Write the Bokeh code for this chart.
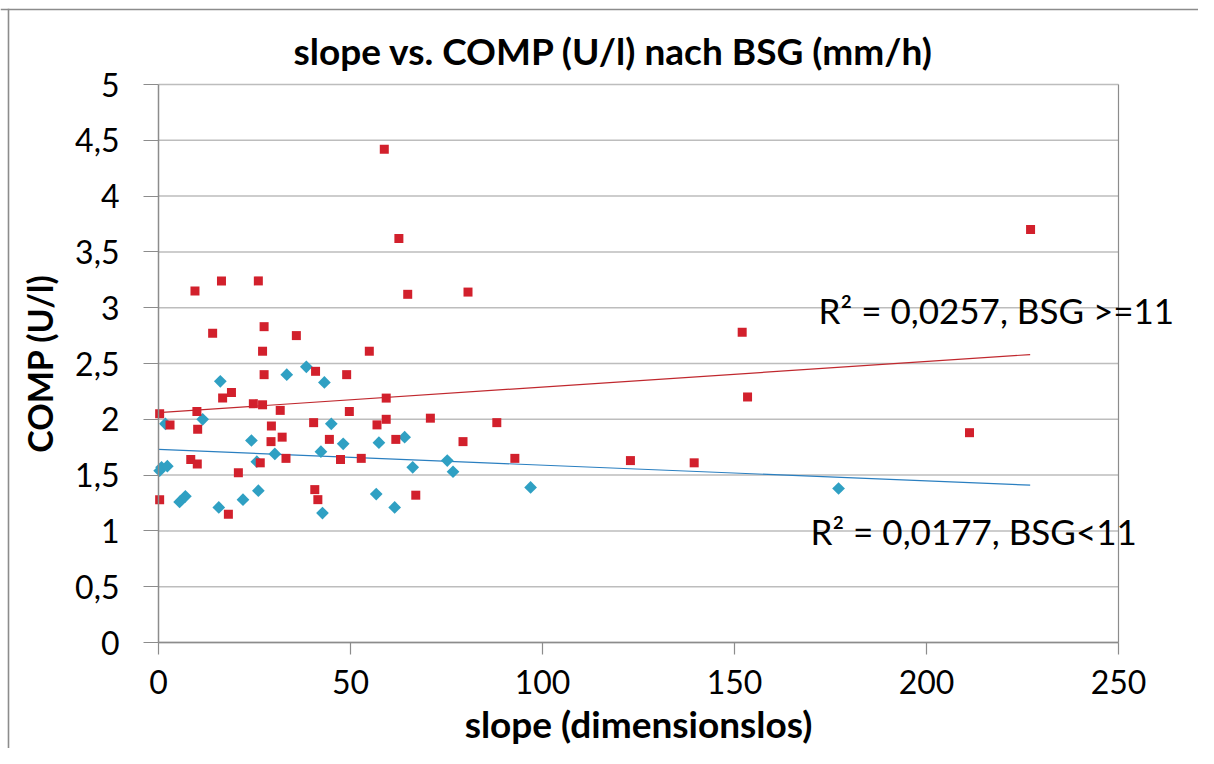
from bokeh.plotting import figure
from bokeh.models import Range1d, FixedTicker, Label, BoxAnnotation
from bokeh.embed import file_html
from bokeh.resources import INLINE

# BSG >= 11 (red squares)
high_x = [0.3, 0.3, 3, 8.4, 9.5, 10, 10.2, 10.1, 14.1, 16.4, 16.7, 18.2, 19, 20.8,
          24.7, 26, 26.5, 27.1, 27.1, 27.5, 27.5, 29.3, 29.4, 31.7, 32.2, 33.2, 35.9,
          40.4, 40.7, 40.9, 41.5, 44.5, 47.4, 49, 49.7, 52.8, 54.9, 56.9, 58.8, 59.3,
          59.3, 61.8, 62.6, 64.9, 67, 70.8, 79.3, 80.6, 88.1, 92.8, 122.9, 139.5,
          152, 153.4, 211.2, 227.1]
high_y = [2.05, 1.28, 1.95, 1.64, 3.15, 2.07, 1.91, 1.60, 2.77, 3.24, 2.19, 1.15, 2.24, 1.52,
          2.14, 3.24, 1.61, 2.13, 2.61, 2.83, 2.40, 1.80, 1.94, 2.08, 1.84, 1.65, 2.75,
          1.97, 1.37, 2.43, 1.28, 1.82, 1.64, 2.40, 2.07, 1.65, 2.61, 1.95, 4.42, 2.19,
          2.00, 1.82, 3.62, 3.12, 1.32, 2.01, 1.80, 3.14, 1.97, 1.65, 1.63, 1.61,
          2.78, 2.20, 1.88, 3.70]

# BSG < 11 (blue diamonds)
low_x = [0.3, 0.8, 1.8, 2.3, 5.5, 7, 11.5, 15.7, 16.1, 22, 24.2, 25.6, 26, 30.3, 33.4,
         38.5, 42.3, 42.7, 43.2, 45, 48.1, 56.7, 57.4, 61.5, 64.1, 66.2, 75.2, 76.7,
         96.9, 177.1]
low_y = [1.54, 1.57, 1.96, 1.58, 1.26, 1.31, 2.00, 1.21, 2.34, 1.28, 1.81, 1.62, 1.36, 1.69, 2.40,
         2.47, 1.71, 1.16, 2.33, 1.96, 1.78, 1.33, 1.79, 1.21, 1.84, 1.57, 1.63, 1.53,
         1.39, 1.38]

# linear trend lines (end points)
trend_x = [0, 227]
high_trend_y = [2.06, 2.58]
low_trend_y = [1.73, 1.41]

x_ticks = [0, 50, 100, 150, 200, 250]
y_ticks = [0, 0.5, 1, 1.5, 2, 2.5, 3, 3.5, 4, 4.5, 5]
y_tick_labels = ["0", "0,5", "1", "1,5", "2", "2,5", "3", "3,5", "4", "4,5", "5"]

title_text = "slope vs. COMP (U/l) nach BSG (mm/h)"
x_label = "slope (dimensionslos)"
y_label = "COMP (U/l)"
high_note = "R\u00b2 = 0,0257,  BSG >=11"
low_note = "R\u00b2 = 0,0177,  BSG<11"

FONT = "Lato"
W, H = 1198, 748
# pixel geometry of the plot area inside the canvas
PX_LEFT, PX_BOTTOM, PX_PER_X, PX_PER_Y = 158, 642, 3.84, 111.6

# The frame fills the whole canvas so that texts reaching past the plot area are not clipped.
p = figure(width=W, height=H, title=None, output_backend="svg", toolbar_location=None,
           x_range=Range1d(-PX_LEFT / PX_PER_X, (W - PX_LEFT) / PX_PER_X),
           y_range=Range1d(-(H - PX_BOTTOM) / PX_PER_Y, PX_BOTTOM / PX_PER_Y),
           min_border_left=0, min_border_right=0, min_border_top=0, min_border_bottom=0)

p.background_fill_color = "white"
p.border_fill_color = "white"
p.outline_line_color = None
p.xgrid.visible = False
p.ygrid.visible = False

# outer chart border: only its top and left edges are inside the picture
p.add_layout(BoxAnnotation(left=0, right=W + 50, top=H - 8.2, bottom=H - 9.8,
                           left_units="screen", right_units="screen",
                           top_units="screen", bottom_units="screen",
                           fill_color="#8c8c8c", fill_alpha=1, line_color=None,
                           level="underlay"))
p.add_layout(BoxAnnotation(left=7.2, right=8.8, top=H - 8.2, bottom=-50,
                           left_units="screen", right_units="screen",
                           top_units="screen", bottom_units="screen",
                           fill_color="#8c8c8c", fill_alpha=1, line_color=None,
                           level="underlay"))

# horizontal gridlines across the plot area and its right border
p.segment(x0=[x_ticks[0]] * len(y_ticks), y0=y_ticks, x1=[x_ticks[-1]] * len(y_ticks), y1=y_ticks,
          line_color="#bdbdbd", line_width=1.5)
p.segment(x0=[x_ticks[-1]], y0=[y_ticks[0]], x1=[x_ticks[-1]], y1=[y_ticks[-1]],
          line_color="#8c8c8c", line_width=1.2)

xa, ya = p.xaxis[0], p.yaxis[0]
xa.fixed_location = 0
ya.fixed_location = 0
xa.bounds = (x_ticks[0], x_ticks[-1])
ya.bounds = (y_ticks[0], y_ticks[-1])
xa.ticker = FixedTicker(ticks=x_ticks)
ya.ticker = FixedTicker(ticks=y_ticks)
ya.major_label_overrides = {t: s for t, s in zip(y_ticks, y_tick_labels)}

for ax in (xa, ya):
    ax.axis_line_color = "#8c8c8c"
    ax.axis_line_width = 1.5
    ax.major_tick_line_color = "#8c8c8c"
    ax.major_tick_line_width = 1.2
    ax.major_tick_in = 0
    ax.minor_tick_line_color = None
    ax.major_label_text_font = FONT
    ax.major_label_text_font_size = "32px"
    ax.major_label_text_color = "#000000"
    ax.axis_label_text_font = FONT
    ax.axis_label_text_font_style = "bold"
    ax.axis_label_text_color = "#000000"

xa.major_tick_out = 12
xa.major_label_standoff = 15
xa.axis_label = x_label
xa.axis_label_text_font_size = "37px"
xa.axis_label_standoff = 4

ya.major_tick_out = 15
ya.major_label_standoff = 24
ya.axis_label = y_label
ya.axis_label_text_font_size = "34px"
ya.axis_label_standoff = 12

# chart title
p.add_layout(Label(x=293, y=H - 50, x_units="screen", y_units="screen", text=title_text,
                   text_font=FONT, text_font_size="37px", text_font_style="bold",
                   text_align="left", text_baseline="middle", text_color="#000000"))

p.line(trend_x, high_trend_y, line_color="#c0282e", line_width=1.2)
p.line(trend_x, low_trend_y, line_color="#2a7fc0", line_width=1.2)

p.scatter(low_x, low_y, marker="square", angle=0.785398, size=9,
          fill_color="#2fa0c3", line_color=None)
p.scatter(high_x, high_y, marker="square", size=9,
          fill_color="#d2202c", line_color=None)

p.add_layout(Label(x=171.9, y=2.975, text=high_note, text_font=FONT, text_font_size="35px",
                   text_baseline="middle", text_align="left", text_color="#000000"))
p.add_layout(Label(x=169.8, y=1.0, text=low_note, text_font=FONT, text_font_size="35px",
                   text_baseline="middle", text_align="left", text_color="#000000"))

open("out.html", "w").write(file_html(p, INLINE))
